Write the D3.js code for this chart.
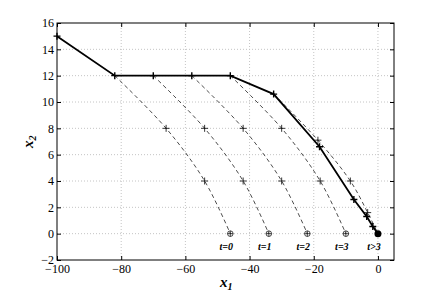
<!DOCTYPE html>
<html>
<head>
<meta charset="utf-8">
<script src="https://cdn.jsdelivr.net/npm/d3@7"></script>
<style>
body { margin: 0; background: #fff; }
svg, svg text { font-family: "Liberation Serif", "DejaVu Serif", serif !important; }
</style>
</head>
<body>
<svg></svg>
<script>
// closed-loop trajectory
const trajX = [-100, -82, -70, -58, -46, -32.5, -18.2, -7.5, -3.5, -1.6, 0]
const trajY = [15, 12, 12, 12, 12, 10.6, 6.6, 2.6, 1.3, 0.55, 0]

// predicted trajectories (dashed)
const predX = [
    [-82, -66, -54, -46],
    [-70, -54, -42, -34],
    [-58, -42, -30, -22],
    [-46, -30, -18, -10],
    [-32.5, -18.7, -8.6, -3.2, 0]
]
const predY = [
    [12, 8, 4, 0],
    [12, 8, 4, 0],
    [12, 8, 4, 0],
    [12, 8, 4, 0],
    [10.6, 7.1, 4.0, 1.6, 0]
]

// terminal points and labels
const endX = [-46, -34, -22, -10, 0]
const endLabels = ['t=0', 't=1', 't=2', 't=3', 't>3']

const xTicks = [-100, -80, -60, -40, -20, 0]
const yTicks = [-2, 0, 2, 4, 6, 8, 10, 12, 14, 16]

const width = 436, height = 296
const margin = {top: 23, right: 42, bottom: 36, left: 57}

const svg = d3.select('svg').attr('width', width).attr('height', height)

const x = d3.scaleLinear().domain([-100, 5]).range([margin.left, width - margin.right])
const y = d3.scaleLinear().domain([-2, 16]).range([height - margin.bottom, margin.top])

// grid
svg.append('g').selectAll('line').data(xTicks.filter(d => d > -100))
    .enter().append('line')
    .attr('x1', d => x(d)).attr('x2', d => x(d))
    .attr('y1', y(-2)).attr('y2', y(16))
    .attr('stroke', '#c4c4c4').attr('stroke-dasharray', '1,2')
svg.append('g').selectAll('line').data(yTicks.filter(d => d > -2 && d < 16))
    .enter().append('line')
    .attr('y1', d => y(d)).attr('y2', d => y(d))
    .attr('x1', x(-100)).attr('x2', x(5))
    .attr('stroke', '#c4c4c4').attr('stroke-dasharray', '1,2')

// axes, ticks pointing inward
function styleAxis(g) {
    g.attr('font-family', null)
    g.select('.domain').remove()
    g.selectAll('.tick line').attr('stroke', '#000')
    g.selectAll('text').attr('font-size', 12).attr('fill', '#000')
}
svg.append('g').attr('transform', `translate(0,${y(-2)})`)
    .call(d3.axisBottom(x).tickValues(xTicks).tickSize(-4).tickPadding(4))
    .call(styleAxis)
svg.append('g').attr('transform', `translate(${x(-100)},0)`)
    .call(d3.axisLeft(y).tickValues(yTicks).tickSize(-4).tickPadding(3))
    .call(styleAxis)
svg.append('g').attr('transform', `translate(0,${y(16)})`)
    .call(d3.axisTop(x).tickValues(xTicks).tickSize(-4).tickFormat(''))
    .call(styleAxis)
svg.append('g').attr('transform', `translate(${x(5)},0)`)
    .call(d3.axisRight(y).tickValues(yTicks).tickSize(-4).tickFormat(''))
    .call(styleAxis)

svg.append('rect')
    .attr('x', x(-100)).attr('y', y(16))
    .attr('width', x(5) - x(-100)).attr('height', y(-2) - y(16))
    .attr('fill', 'none').attr('stroke', '#000').attr('stroke-width', 1)

function plus(g, px, py, s, w) {
    g.append('path')
        .attr('d', `M${px - s},${py}H${px + s}M${px},${py - s}V${py + s}`)
        .attr('stroke', '#000').attr('stroke-width', w)
}

// predicted curves
const curveLine = d3.line().x(d => x(d[0])).y(d => y(d[1])).curve(d3.curveCatmullRom)
const predG = svg.append('g')
predX.forEach((xs, i) => {
    const pts = xs.map((v, j) => [v, predY[i][j]])
    predG.append('path').attr('d', curveLine(pts))
        .attr('fill', 'none').attr('stroke', '#000').attr('stroke-width', 0.7)
        .attr('stroke-dasharray', '4,3')
    pts.slice(1, pts.length - 1).forEach(p => plus(predG, x(p[0]), y(p[1]), 3.5, 0.8))
})

// main trajectory
const traj = trajX.map((v, i) => [v, trajY[i]])
svg.append('path')
    .attr('d', d3.line().x(d => x(d[0])).y(d => y(d[1]))(traj))
    .attr('fill', 'none').attr('stroke', '#000').attr('stroke-width', 1.8)
const trajG = svg.append('g')
traj.slice(0, traj.length - 1).forEach(p => plus(trajG, x(p[0]), y(p[1]), 3.5, 1.4))
svg.append('circle').attr('cx', x(0)).attr('cy', y(0)).attr('r', 3.5).attr('fill', '#000')

// terminal markers
endX.slice(0, 4).forEach(v => {
    svg.append('circle').attr('cx', x(v)).attr('cy', y(0)).attr('r', 2.8)
        .attr('fill', 'none').attr('stroke', '#000').attr('stroke-width', 0.7)
    plus(svg, x(v), y(0), 2.8, 0.7)
})
svg.append('g').selectAll('text').data(endLabels).enter().append('text')
    .attr('x', (d, i) => x(endX[i]) - 4)
    .attr('y', y(0) + 16)
    .attr('text-anchor', 'middle')
    .attr('font-size', 10).attr('font-weight', 'bold').attr('font-style', 'italic')
    .text(d => d)

// axis labels
const xl = svg.append('text').attr('x', 220).attr('y', 287)
    .attr('font-size', 15).attr('font-weight', 'bold').attr('font-style', 'italic')
xl.append('tspan').text('x')
xl.append('tspan').attr('dy', 3).attr('font-size', 10).text('1')

const yl = svg.append('text').attr('transform', 'translate(33,148) rotate(-90)')
    .attr('font-size', 15).attr('font-weight', 'bold').attr('font-style', 'italic')
yl.append('tspan').text('x')
yl.append('tspan').attr('dy', 3).attr('font-size', 10).text('2')
</script>
</body>
</html>
